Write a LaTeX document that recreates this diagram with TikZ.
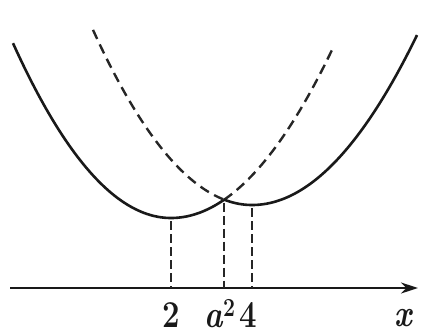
\documentclass[tikz,border=0pt]{standalone}
\usetikzlibrary{arrows.meta}
\tikzset{
  curve/.style={line width=2.6pt, color=black!90},
  dcurve/.style={line width=2.4pt, color=black!85, dash pattern=on 10pt off 6pt},
  vline/.style={line width=2.3pt, color=black!85, dash pattern=on 9pt off 4pt},
  axisline/.style={line width=2.2pt, color=black!90, -{Stealth[length=17pt,width=11pt]}},
  lab/.style={font=\fontsize{38}{40}\selectfont\bfseries, anchor=base, inner sep=0pt, text depth=0pt, xscale=0.82, text=black!90}
}
\begin{document}
\begin{tikzpicture}[x=1pt,y=-1pt]
\useasboundingbox (0,0) rectangle (423,333);
% vertices and crossing
\coordinate (v2) at (171,218);
\coordinate (cr) at (224,199.7);
\coordinate (v4) at (252,205);
\coordinate (ax0) at (10,288);
\coordinate (ax1) at (418,288);
% axis
\draw[axisline] (ax0) -- (ax1);
% left parabola (vertex at x=2)
\draw[curve] plot[domain=13:224, samples=80, smooth] (\x, {218 - ((\x<171)?0.0070:0.00648)*(\x-171)*(\x-171)});
\draw[dcurve] plot[domain=224:333, samples=50, smooth] (\x, {218 - 0.00648*(\x-171)*(\x-171)});
% right parabola (vertex at x=4)
\draw[curve] plot[domain=224:417, samples=80, smooth] (\x, {205 - ((\x<252)?0.00692:0.00624)*(\x-252)*(\x-252)});
\draw[dcurve] plot[domain=93:224, samples=50, smooth] (\x, {205 - 0.00692*(\x-252)*(\x-252)});
% vertical dashed lines
\draw[vline] ([yshift=-3pt]v2) -- (v2 |- ax0);
\draw[vline] ([yshift=-3pt]cr) -- (cr |- ax0);
\draw[vline] ([yshift=-3pt]v4) -- (v4 |- ax0);
% labels
\node[lab] (l2) at (171,327) {2};
\node[lab] (la) at (220,327) {\itshape a\raisebox{11pt}{\upshape\fontsize{26}{26}\selectfont 2}};
\node[lab] (l4) at (248,327) {4};
\node[lab] (lx) at (403,326) {\itshape x};
\end{tikzpicture}
\end{document}
